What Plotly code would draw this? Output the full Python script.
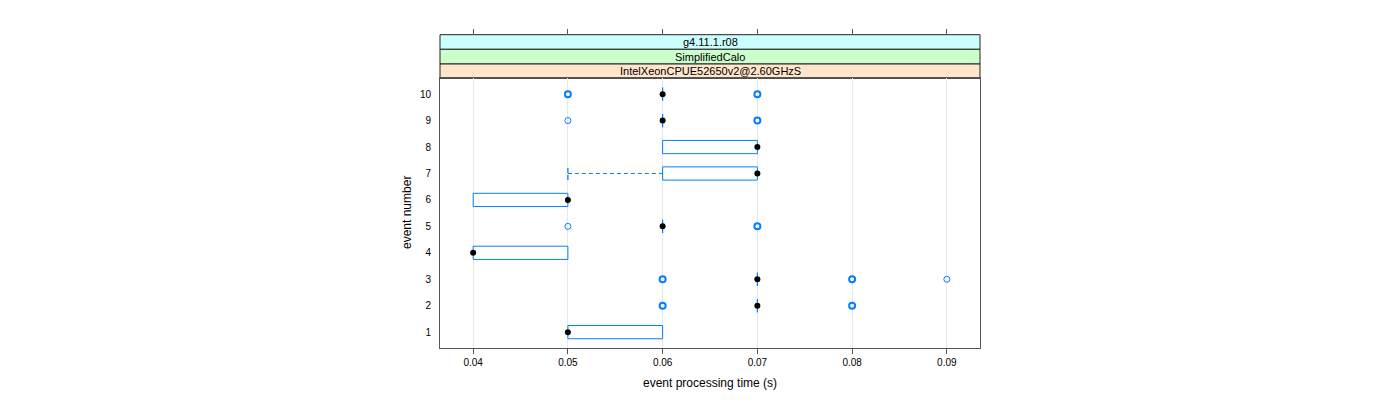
import plotly.graph_objects as go

# ---- data ----
events = [1, 2, 3, 4, 5, 6, 7, 8, 9, 10]
q1 = [0.05, 0.07, 0.07, 0.04, 0.06, 0.04, 0.06, 0.06, 0.06, 0.06]
median = [0.05, 0.07, 0.07, 0.04, 0.06, 0.05, 0.07, 0.07, 0.06, 0.06]
q3 = [0.06, 0.07, 0.07, 0.05, 0.06, 0.05, 0.07, 0.07, 0.06, 0.06]
whisk_lo = [0.05, 0.07, 0.07, 0.04, 0.06, 0.04, 0.05, 0.06, 0.06, 0.06]
whisk_hi = [0.06, 0.07, 0.07, 0.05, 0.06, 0.05, 0.07, 0.07, 0.06, 0.06]
# outliers: (event, value, count)
out_event = [2, 2, 3, 3, 3, 5, 5, 9, 9, 10, 10]
out_value = [0.06, 0.08, 0.06, 0.08, 0.09, 0.05, 0.07, 0.05, 0.07, 0.05, 0.07]
out_count = [3, 3, 3, 3, 1, 1, 3, 1, 3, 3, 3]

x_ticks = [0.04, 0.05, 0.06, 0.07, 0.08, 0.09]
x_ticklabels = ["0.04", "0.05", "0.06", "0.07", "0.08", "0.09"]
strip_labels = ["g4.11.1.r08", "SimplifiedCalo", "IntelXeonCPUE52650v2@2.60GHzS"]
strip_colors = ["#ccffff", "#ccffcc", "#ffe5cc"]
x_title = "event processing time (s)"
y_title = "event number"

BLUE = "#0080ff"
HALF = 0.25
FONT = "Liberation Sans"

fig = go.Figure()

# boxes
bx, by = [], []
for e, a, b in zip(events, q1, q3):
    bx += [a, b, b, a, a, None]
    by += [e - HALF, e - HALF, e + HALF, e + HALF, e - HALF, None]
fig.add_trace(go.Scatter(x=bx, y=by, mode="lines", line=dict(color=BLUE, width=1),
                         hoverinfo="skip", showlegend=False))

# whiskers (dashed) and staples
wx, wy, sx, sy = [], [], [], []
for e, lo, a, b, hi in zip(events, whisk_lo, q1, q3, whisk_hi):
    if lo < a:
        wx += [lo, a, None]
        wy += [e, e, None]
        sx += [lo, lo, None]
        sy += [e - HALF, e + HALF, None]
    if hi > b:
        wx += [b, hi, None]
        wy += [e, e, None]
        sx += [hi, hi, None]
        sy += [e - HALF, e + HALF, None]
if wx:
    fig.add_trace(go.Scatter(x=wx, y=wy, mode="lines",
                             line=dict(color=BLUE, width=1, dash="4px,3px"),
                             hoverinfo="skip", showlegend=False))
    fig.add_trace(go.Scatter(x=sx, y=sy, mode="lines",
                             line=dict(color=BLUE, width=1.3, dash="5px,2px"),
                             hoverinfo="skip", showlegend=False))

# outliers
fig.add_trace(go.Scatter(
    x=out_value, y=out_event, mode="markers",
    marker=dict(symbol="circle-open", size=6, color=BLUE,
                line=dict(color=BLUE, width=[2 if c > 1 else 1 for c in out_count])),
    hoverinfo="skip", showlegend=False))

# medians
fig.add_trace(go.Scatter(x=median, y=events, mode="markers",
                         marker=dict(symbol="circle", size=6, color="black"),
                         hoverinfo="skip", showlegend=False))

# invisible trace for top axis
fig.add_trace(go.Scatter(x=[x_ticks[0]], y=[events[0]], xaxis="x2", yaxis="y",
                         mode="markers", marker=dict(opacity=0), hoverinfo="skip",
                         showlegend=False))

XR = [0.0365, 0.0935]
YD = 0.8617
# page body has an 8px margin: figure is 1384x384 so it fills the 1400x400 window
fig.update_layout(
    width=1384, height=384,
    margin=dict(l=432, r=412, t=27, b=44),
    paper_bgcolor="white", plot_bgcolor="white",
    font=dict(family=FONT, size=10, color="black"),
    xaxis=dict(range=XR, tickvals=x_ticks, ticktext=x_ticklabels,
               showgrid=True, gridcolor="#e8e8e8", gridwidth=1,
               zeroline=False, showline=True, linecolor="#555", linewidth=1,
               mirror=True, ticks="outside", ticklen=5, tickcolor="#555",
               tickfont=dict(size=10, family=FONT), anchor="y"),
    xaxis2=dict(range=XR, tickvals=x_ticks, overlaying="x", side="top",
                anchor="free", position=1, showticklabels=False,
                showgrid=False, zeroline=False, showline=False,
                ticks="outside", ticklen=6, tickcolor="#555"),
    yaxis=dict(range=[0.4, 10.6], domain=[0, YD], tickvals=events,
               ticktext=[str(e) for e in events], showgrid=False, zeroline=False,
               showline=True, linecolor="#555", linewidth=1, mirror=True,
               ticks="outside", ticklen=6, tickcolor="rgba(0,0,0,0)",
               tickfont=dict(size=10, family=FONT)),
)

# strips (pixel rows of the window -> paper coords)
px = lambda p: (348 - p) / 313.0
bounds = [(34.7, 49.3), (49.3, 64.0), (64.0, 78.3)]
for (top, bot), lab, col in zip(bounds, strip_labels, strip_colors):
    fig.add_shape(type="rect", xref="paper", yref="paper", x0=0, x1=1,
                  y0=px(bot), y1=px(top), fillcolor=col,
                  line=dict(color="#222", width=1), layer="below")
    fig.add_annotation(xref="paper", yref="paper", x=0.5, y=(px(bot) + px(top)) / 2,
                       text=lab, showarrow=False, font=dict(size=11, family=FONT),
                       xanchor="center", yanchor="middle")

fig.add_annotation(xref="paper", yref="paper", x=0.5, y=px(383), text=x_title,
                   showarrow=False, font=dict(size=12, family=FONT),
                   xanchor="center", yanchor="middle")
fig.add_annotation(xref="paper", yref="paper", x=(407 - 440) / 540.0, y=px(213),
                   text=y_title, textangle=-90, showarrow=False,
                   font=dict(size=12, family=FONT), xanchor="center", yanchor="middle")

fig.write_html("out.html")
